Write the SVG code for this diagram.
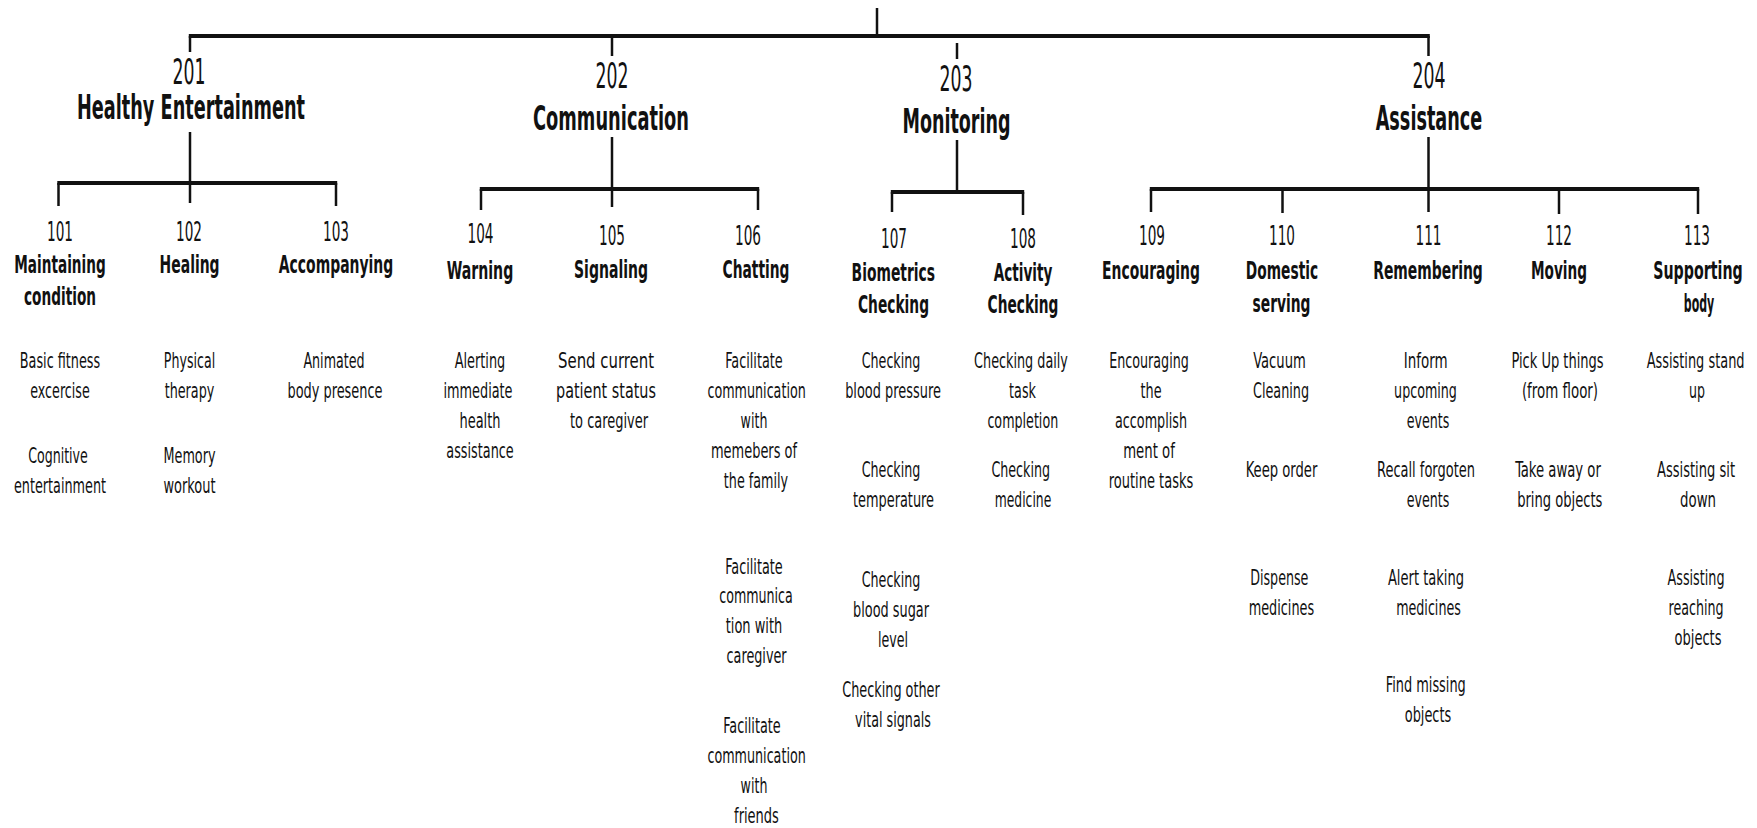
<svg xmlns="http://www.w3.org/2000/svg" width="1757" height="828" viewBox="0 0 1757 828">
<style>
text{font-family:"DejaVu Sans Condensed","DejaVu Sans","Liberation Sans",sans-serif;fill:#111;text-anchor:middle}
.n1{font-size:35px}
.h1{font-size:33px;font-weight:bold}
.n2{font-size:26px}
.h2{font-size:24px;font-weight:bold}
.d{font-size:22px}
.hb{stroke:#111;stroke-width:4;fill:none}
.vs{stroke:#111;stroke-width:2.5;fill:none}
</style>
<rect width="1757" height="828" fill="#fff"/>
<g id="connectors">
<line class="vs" x1="877" y1="8" x2="877" y2="36"/>
<line class="hb" x1="188.8" y1="36" x2="1429.8" y2="36"/>
<line class="vs" x1="190" y1="36" x2="190" y2="52"/>
<line class="vs" x1="612" y1="36" x2="612" y2="56"/>
<line class="vs" x1="957" y1="43" x2="957" y2="59"/>
<line class="vs" x1="1428.5" y1="36" x2="1428.5" y2="56"/>
<line class="vs" x1="190" y1="132" x2="190" y2="183"/>
<line class="hb" x1="57.3" y1="183" x2="337.2" y2="183"/>
<line class="vs" x1="58.5" y1="183" x2="58.5" y2="206"/>
<line class="vs" x1="190" y1="183" x2="190" y2="203"/>
<line class="vs" x1="336" y1="183" x2="336" y2="206"/>
<line class="vs" x1="612" y1="137" x2="612" y2="189"/>
<line class="hb" x1="479.8" y1="189" x2="759.2" y2="189"/>
<line class="vs" x1="481" y1="189" x2="481" y2="210"/>
<line class="vs" x1="612" y1="189" x2="612" y2="207"/>
<line class="vs" x1="758" y1="189" x2="758" y2="210"/>
<line class="vs" x1="957" y1="140" x2="957" y2="192"/>
<line class="hb" x1="890.8" y1="192" x2="1024.2" y2="192"/>
<line class="vs" x1="892" y1="192" x2="892" y2="212"/>
<line class="vs" x1="1023" y1="192" x2="1023" y2="215"/>
<line class="vs" x1="1428.5" y1="137" x2="1428.5" y2="189"/>
<line class="hb" x1="1149.8" y1="189" x2="1699.2" y2="189"/>
<line class="vs" x1="1151" y1="189" x2="1151" y2="212"/>
<line class="vs" x1="1282.5" y1="189" x2="1282.5" y2="213"/>
<line class="vs" x1="1428.5" y1="189" x2="1428.5" y2="212"/>
<line class="vs" x1="1559" y1="189" x2="1559" y2="214"/>
<line class="vs" x1="1698" y1="189" x2="1698" y2="214"/>
</g>
<g id="n201">
<text class="n1" x="189" y="84" textLength="33" lengthAdjust="spacingAndGlyphs">201</text>
<text class="h1" x="191" y="119" textLength="228" lengthAdjust="spacingAndGlyphs">Healthy Entertainment</text>
</g>
<g id="n202">
<text class="n1" x="612" y="88" textLength="33" lengthAdjust="spacingAndGlyphs">202</text>
<text class="h1" x="611" y="130" textLength="156" lengthAdjust="spacingAndGlyphs">Communication</text>
</g>
<g id="n203">
<text class="n1" x="956" y="91" textLength="33" lengthAdjust="spacingAndGlyphs">203</text>
<text class="h1" x="956.5" y="133" textLength="108" lengthAdjust="spacingAndGlyphs">Monitoring</text>
</g>
<g id="n204">
<text class="n1" x="1429" y="88" textLength="33" lengthAdjust="spacingAndGlyphs">204</text>
<text class="h1" x="1429" y="130" textLength="106.6" lengthAdjust="spacingAndGlyphs">Assistance</text>
</g>
<g id="n101">
<text class="n2" x="60" y="241" textLength="26" lengthAdjust="spacingAndGlyphs">101</text>
<text class="h2" x="60" y="273" textLength="91.5" lengthAdjust="spacingAndGlyphs">Maintaining</text>
<text class="h2" x="60" y="305" textLength="72" lengthAdjust="spacingAndGlyphs">condition</text>
<text class="d" x="60" y="368" textLength="80.4" lengthAdjust="spacingAndGlyphs">Basic fitness</text>
<text class="d" x="60" y="398" textLength="59.4" lengthAdjust="spacingAndGlyphs">excercise</text>
<text class="d" x="58" y="463" textLength="59.7" lengthAdjust="spacingAndGlyphs">Cognitive</text>
<text class="d" x="60" y="493" textLength="92" lengthAdjust="spacingAndGlyphs">entertainment</text>
</g>
<g id="n102">
<text class="n2" x="189" y="241" textLength="26" lengthAdjust="spacingAndGlyphs">102</text>
<text class="h2" x="189.6" y="273" textLength="60" lengthAdjust="spacingAndGlyphs">Healing</text>
<text class="d" x="189.5" y="368" textLength="51.3" lengthAdjust="spacingAndGlyphs">Physical</text>
<text class="d" x="189.5" y="398" textLength="49.7" lengthAdjust="spacingAndGlyphs">therapy</text>
<text class="d" x="189.5" y="463" textLength="52" lengthAdjust="spacingAndGlyphs">Memory</text>
<text class="d" x="189.5" y="493" textLength="52" lengthAdjust="spacingAndGlyphs">workout</text>
</g>
<g id="n103">
<text class="n2" x="336" y="241" textLength="26" lengthAdjust="spacingAndGlyphs">103</text>
<text class="h2" x="336" y="273" textLength="114.5" lengthAdjust="spacingAndGlyphs">Accompanying</text>
<text class="d" x="334" y="368" textLength="61.2" lengthAdjust="spacingAndGlyphs">Animated</text>
<text class="d" x="335" y="398" textLength="95" lengthAdjust="spacingAndGlyphs">body presence</text>
</g>
<g id="n104">
<text class="n2" x="480.5" y="243" textLength="26" lengthAdjust="spacingAndGlyphs">104</text>
<text class="h2" x="480" y="279" textLength="66.6" lengthAdjust="spacingAndGlyphs">Warning</text>
<text class="d" x="480" y="368" textLength="50.5" lengthAdjust="spacingAndGlyphs">Alerting</text>
<text class="d" x="478" y="398" textLength="69" lengthAdjust="spacingAndGlyphs">immediate</text>
<text class="d" x="480" y="428" textLength="41" lengthAdjust="spacingAndGlyphs">health</text>
<text class="d" x="480" y="458" textLength="67.4" lengthAdjust="spacingAndGlyphs">assistance</text>
</g>
<g id="n105">
<text class="n2" x="612" y="245" textLength="26" lengthAdjust="spacingAndGlyphs">105</text>
<text class="h2" x="611" y="278" textLength="74" lengthAdjust="spacingAndGlyphs">Signaling</text>
<text class="d" x="606" y="368" textLength="96" lengthAdjust="spacingAndGlyphs">Send current</text>
<text class="d" x="606" y="398" textLength="100" lengthAdjust="spacingAndGlyphs">patient status</text>
<text class="d" x="609" y="428" textLength="78" lengthAdjust="spacingAndGlyphs">to caregiver</text>
</g>
<g id="n106">
<text class="n2" x="748" y="245" textLength="26" lengthAdjust="spacingAndGlyphs">106</text>
<text class="h2" x="756" y="278" textLength="67" lengthAdjust="spacingAndGlyphs">Chatting</text>
<text class="d" x="754" y="368" textLength="57.4" lengthAdjust="spacingAndGlyphs">Facilitate</text>
<text class="d" x="756.6" y="398" textLength="98.4" lengthAdjust="spacingAndGlyphs">communication</text>
<text class="d" x="754" y="428" textLength="26.8" lengthAdjust="spacingAndGlyphs">with</text>
<text class="d" x="754" y="458" textLength="86" lengthAdjust="spacingAndGlyphs">memebers of</text>
<text class="d" x="756" y="488" textLength="64.3" lengthAdjust="spacingAndGlyphs">the family</text>
<text class="d" x="754" y="574" textLength="57.4" lengthAdjust="spacingAndGlyphs">Facilitate</text>
<text class="d" x="756" y="603" textLength="73.5" lengthAdjust="spacingAndGlyphs">communica</text>
<text class="d" x="754" y="633" textLength="56.6" lengthAdjust="spacingAndGlyphs">tion with</text>
<text class="d" x="756.6" y="663" textLength="60" lengthAdjust="spacingAndGlyphs">caregiver</text>
<text class="d" x="752" y="733" textLength="57.4" lengthAdjust="spacingAndGlyphs">Facilitate</text>
<text class="d" x="756.6" y="763" textLength="98.4" lengthAdjust="spacingAndGlyphs">communication</text>
<text class="d" x="754" y="793" textLength="26.8" lengthAdjust="spacingAndGlyphs">with</text>
<text class="d" x="756.5" y="823" textLength="44.8" lengthAdjust="spacingAndGlyphs">friends</text>
</g>
<g id="n107">
<text class="n2" x="894" y="248" textLength="26" lengthAdjust="spacingAndGlyphs">107</text>
<text class="h2" x="893.3" y="281" textLength="83.4" lengthAdjust="spacingAndGlyphs">Biometrics</text>
<text class="h2" x="893.5" y="313" textLength="71" lengthAdjust="spacingAndGlyphs">Checking</text>
<text class="d" x="891" y="368" textLength="58.6" lengthAdjust="spacingAndGlyphs">Checking</text>
<text class="d" x="893" y="398" textLength="95.7" lengthAdjust="spacingAndGlyphs">blood pressure</text>
<text class="d" x="891" y="477" textLength="58.6" lengthAdjust="spacingAndGlyphs">Checking</text>
<text class="d" x="893.5" y="507" textLength="81" lengthAdjust="spacingAndGlyphs">temperature</text>
<text class="d" x="891" y="587" textLength="58.6" lengthAdjust="spacingAndGlyphs">Checking</text>
<text class="d" x="891" y="617" textLength="76" lengthAdjust="spacingAndGlyphs">blood sugar</text>
<text class="d" x="893" y="647" textLength="30" lengthAdjust="spacingAndGlyphs">level</text>
<text class="d" x="891" y="697" textLength="97.6" lengthAdjust="spacingAndGlyphs">Checking other</text>
<text class="d" x="893" y="727" textLength="75.8" lengthAdjust="spacingAndGlyphs">vital signals</text>
</g>
<g id="n108">
<text class="n2" x="1023" y="248" textLength="26" lengthAdjust="spacingAndGlyphs">108</text>
<text class="h2" x="1023" y="281" textLength="58.6" lengthAdjust="spacingAndGlyphs">Activity</text>
<text class="h2" x="1023" y="313" textLength="70.8" lengthAdjust="spacingAndGlyphs">Checking</text>
<text class="d" x="1021" y="368" textLength="93.8" lengthAdjust="spacingAndGlyphs">Checking daily</text>
<text class="d" x="1022.5" y="398" textLength="26.8" lengthAdjust="spacingAndGlyphs">task</text>
<text class="d" x="1022.8" y="428" textLength="70.8" lengthAdjust="spacingAndGlyphs">completion</text>
<text class="d" x="1020.7" y="477" textLength="58.6" lengthAdjust="spacingAndGlyphs">Checking</text>
<text class="d" x="1023" y="507" textLength="56.5" lengthAdjust="spacingAndGlyphs">medicine</text>
</g>
<g id="n109">
<text class="n2" x="1152" y="245" textLength="26" lengthAdjust="spacingAndGlyphs">109</text>
<text class="h2" x="1151" y="279" textLength="98" lengthAdjust="spacingAndGlyphs">Encouraging</text>
<text class="d" x="1149" y="368" textLength="79.6" lengthAdjust="spacingAndGlyphs">Encouraging</text>
<text class="d" x="1151" y="398" textLength="21" lengthAdjust="spacingAndGlyphs">the</text>
<text class="d" x="1151" y="428" textLength="72" lengthAdjust="spacingAndGlyphs">accomplish</text>
<text class="d" x="1149" y="458" textLength="51.6" lengthAdjust="spacingAndGlyphs">ment of</text>
<text class="d" x="1151" y="488" textLength="84.5" lengthAdjust="spacingAndGlyphs">routine tasks</text>
</g>
<g id="n110">
<text class="n2" x="1282" y="245" textLength="26" lengthAdjust="spacingAndGlyphs">110</text>
<text class="h2" x="1282" y="279" textLength="72.3" lengthAdjust="spacingAndGlyphs">Domestic</text>
<text class="h2" x="1281.5" y="312" textLength="58" lengthAdjust="spacingAndGlyphs">serving</text>
<text class="d" x="1279.5" y="368" textLength="52.6" lengthAdjust="spacingAndGlyphs">Vacuum</text>
<text class="d" x="1281" y="398" textLength="56" lengthAdjust="spacingAndGlyphs">Cleaning</text>
<text class="d" x="1281.5" y="477" textLength="71.6" lengthAdjust="spacingAndGlyphs">Keep order</text>
<text class="d" x="1279.3" y="585" textLength="58.3" lengthAdjust="spacingAndGlyphs">Dispense</text>
<text class="d" x="1281.4" y="615" textLength="65.5" lengthAdjust="spacingAndGlyphs">medicines</text>
</g>
<g id="n111">
<text class="n2" x="1428.5" y="245" textLength="26" lengthAdjust="spacingAndGlyphs">111</text>
<text class="h2" x="1428" y="279" textLength="109.7" lengthAdjust="spacingAndGlyphs">Remembering</text>
<text class="d" x="1425.6" y="368" textLength="43.8" lengthAdjust="spacingAndGlyphs">Inform</text>
<text class="d" x="1425.5" y="398" textLength="62.8" lengthAdjust="spacingAndGlyphs">upcoming</text>
<text class="d" x="1428" y="428" textLength="42.6" lengthAdjust="spacingAndGlyphs">events</text>
<text class="d" x="1426" y="477" textLength="97.9" lengthAdjust="spacingAndGlyphs">Recall forgoten</text>
<text class="d" x="1428" y="507" textLength="42.6" lengthAdjust="spacingAndGlyphs">events</text>
<text class="d" x="1426" y="585" textLength="76.2" lengthAdjust="spacingAndGlyphs">Alert taking</text>
<text class="d" x="1428.5" y="615" textLength="64.7" lengthAdjust="spacingAndGlyphs">medicines</text>
<text class="d" x="1425.8" y="692" textLength="80" lengthAdjust="spacingAndGlyphs">Find missing</text>
<text class="d" x="1428" y="722" textLength="46.5" lengthAdjust="spacingAndGlyphs">objects</text>
</g>
<g id="n112">
<text class="n2" x="1559" y="245" textLength="26" lengthAdjust="spacingAndGlyphs">112</text>
<text class="h2" x="1559" y="279" textLength="56" lengthAdjust="spacingAndGlyphs">Moving</text>
<text class="d" x="1557.5" y="368" textLength="92.2" lengthAdjust="spacingAndGlyphs">Pick Up things</text>
<text class="d" x="1560" y="398" textLength="76.2" lengthAdjust="spacingAndGlyphs">(from floor)</text>
<text class="d" x="1558" y="477" textLength="85.7" lengthAdjust="spacingAndGlyphs">Take away or</text>
<text class="d" x="1559.8" y="507" textLength="85.3" lengthAdjust="spacingAndGlyphs">bring objects</text>
</g>
<g id="n113">
<text class="n2" x="1697" y="245" textLength="26" lengthAdjust="spacingAndGlyphs">113</text>
<text class="h2" x="1698" y="279" textLength="89.5" lengthAdjust="spacingAndGlyphs">Supporting</text>
<text class="h2" x="1699" y="312" textLength="30.5" lengthAdjust="spacingAndGlyphs">body</text>
<text class="d" x="1695.6" y="368" textLength="97.9" lengthAdjust="spacingAndGlyphs">Assisting stand</text>
<text class="d" x="1697" y="398" textLength="16" lengthAdjust="spacingAndGlyphs">up</text>
<text class="d" x="1696" y="477" textLength="78" lengthAdjust="spacingAndGlyphs">Assisting sit</text>
<text class="d" x="1698" y="507" textLength="36" lengthAdjust="spacingAndGlyphs">down</text>
<text class="d" x="1696" y="585" textLength="57" lengthAdjust="spacingAndGlyphs">Assisting</text>
<text class="d" x="1696" y="615" textLength="55" lengthAdjust="spacingAndGlyphs">reaching</text>
<text class="d" x="1698" y="645" textLength="47" lengthAdjust="spacingAndGlyphs">objects</text>
</g>
</svg>
